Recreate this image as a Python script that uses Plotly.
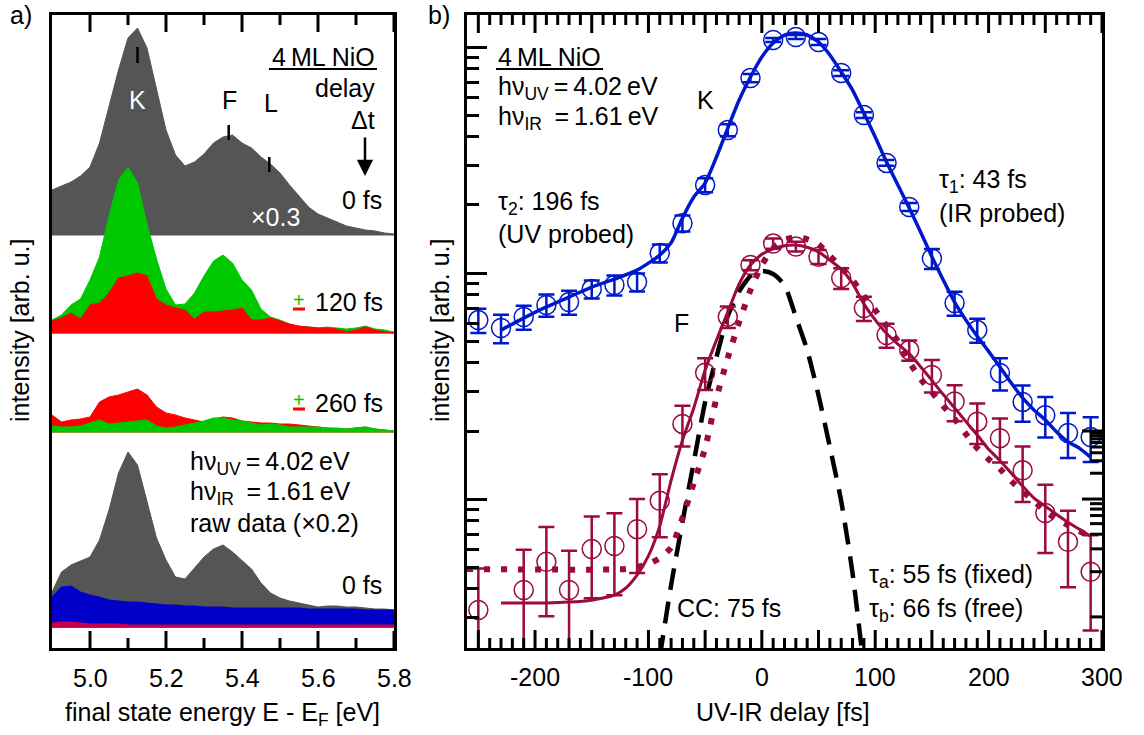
import math
import plotly.graph_objects as go

W, H = 1144, 735
FONT = "Liberation Sans"

# ---------------- panel a) spectra ----------------
energy = [4.900, 4.925, 4.950, 4.975, 5.000, 5.025, 5.050, 5.075, 5.100, 5.125,
          5.150, 5.175, 5.200, 5.225, 5.250, 5.275, 5.300, 5.325, 5.350, 5.375,
          5.400, 5.425, 5.450, 5.475, 5.500, 5.525, 5.550, 5.575, 5.600, 5.625,
          5.650, 5.675, 5.700, 5.725, 5.750, 5.775, 5.800]

spec_0fs_x03 = [45, 49, 53, 59, 68, 92, 128, 165, 197, 207,
                187, 145, 105, 80, 69, 73, 81, 92, 98, 100,
                92, 87, 78, 71, 62, 50, 39, 28, 21, 17,
                13, 9, 7, 5, 4, 2, 1]
spec_p120 = [13, 18, 28, 34, 53, 76, 117, 153, 166, 150,
             109, 74, 44, 28, 29, 40, 57, 72, 78, 70,
             53, 43, 24, 16, 13, 9, 6, 6, 5, 6,
             5, 4, 5, 7, 4, 3, 1]
spec_m120 = [12, 15, 20, 14, 28, 30, 40, 55, 57, 60,
             57, 34, 28, 25, 23, 14, 21, 21, 22, 23,
             25, 13, 13, 15, 12, 9, 7, 6, 5, 5,
             4, 1, 3, 6, 3, 1, 0]
spec_m260 = [17, 10, 12, 13, 15, 30, 35, 37, 40, 43,
             37, 25, 19, 17, 14, 12, 10, 13, 15, 14,
             11, 10, 9, 9, 8, 8, 7, 6, 5, 4,
             3, 3, 4, 5, 3, 2, 1]
spec_p260 = [6, 5, 5, 6, 9, 12, 8, 9, 10, 11,
             12, 6, 4, 5, 7, 9, 11, 14, 14, 12,
             11, 9, 7, 8, 7, 5, 5, 5, 5, 4,
             4, 3, 4, 5, 3, 2, 1]
raw_grey = [35, 55, 62, 66, 70, 87, 117, 154, 175, 162,
            126, 89, 67, 50, 48, 59, 70, 78, 82, 75,
            66, 58, 44, 34, 29, 26, 24, 22, 20, 21,
            21, 20, 20, 19, 18, 18, 17]
raw_blue = [30, 40, 41, 35, 32, 30, 27, 26, 25, 25,
            24, 23, 22, 22, 21, 21, 20, 20, 20, 19,
            19, 19, 19, 19, 19, 19, 19, 18, 18, 18,
            18, 18, 18, 17, 17, 17, 17]
raw_pink = [4, 5, 5, 4, 3, 3, 3, 3, 2, 2,
            2, 2, 2, 2, 2, 2, 2, 2, 2, 2,
            2, 2, 2, 2, 2, 2, 2, 2, 2, 2,
            2, 2, 2, 2, 2, 2, 2]

x_ticks_a = [5.0, 5.2, 5.4, 5.6, 5.8]
x_ticktext_a = ["5.0", "5.2", "5.4", "5.6", "5.8"]
x_minor_a = [5.1, 5.3, 5.5, 5.7]

# ---------------- panel b) delay scans ----------------
delay_K = [-250, -230, -210, -190, -170, -150, -130, -110, -90, -70, -50, -30, -10, 10,
           30, 50, 70, 90, 110, 130, 150, 170, 190, 210, 230, 250, 270, 290]
int_K = [6.19, 5.71, 6.39, 7.22, 7.44, 8.49, 8.85, 9.12, 12.25, 16.6, 24.5, 42.9, 72.9, 107.4,
         110.7, 105.2, 76.7, 50.0, 30.7, 19.6, 11.6, 7.37, 5.59, 3.61, 2.69, 2.35, 1.96, 1.88]
err_K = [0.76, 0.82, 0.78, 0.81, 0.91, 0.78, 0.9, 0.84, 1.12, 1.35, 1.75, 2.6, 3.0, 2.2,
         2.3, 3.2, 2.3, 1.5, 0.9, 0.8, 1.18, 0.9, 0.68, 0.59, 0.49, 0.48, 0.44, 0.42]

fit_K_delay = [-230, -210, -190, -170, -150, -130, -110, -90, -80, -70, -60, -50, -40, -30,
               -20, -10, 0, 10, 20, 30, 40, 50, 60, 70, 80, 90, 100, 110, 120, 130, 140,
               150, 160, 170, 180, 190, 200, 210, 220, 230, 240, 250, 260, 270, 280, 290]
fit_K = [5.59, 6.32, 7.08, 7.83, 8.67, 9.40, 10.3, 12.0, 13.6, 17.5, 21.7, 25.0, 32.6, 43.8,
         58.3, 73.7, 90.3, 104.2, 113.0, 115.3, 113.0, 105.2, 92.2, 77.5, 64.5, 51.0, 40.0,
         31.0, 24.5, 19.4, 15.2, 11.8, 9.31, 7.44, 6.19, 5.25, 4.5, 3.84, 3.26, 2.80, 2.48,
         2.24, 1.98, 1.79, 1.68, 1.53]

delay_F = [-250, -210, -190, -170, -150, -130, -110, -90, -70, -50, -30, -10, 10, 30,
           50, 70, 90, 110, 130, 150, 170, 190, 210, 230, 250, 270, 290]
int_F = [0.323, 0.396, 0.528, 0.396, 0.601, 0.620, 0.736, 0.983, 2.15, 3.62, 6.41, 10.85, 13.5, 13.1,
         11.8, 9.5, 7.0, 5.32, 4.56, 3.54, 2.70, 2.20, 1.86, 1.34, 0.867, 0.647, 0.477]
err_F = [0.17, 0.2, 0.225, 0.195, 0.237, 0.245, 0.265, 0.305, 0.44, 0.58, 0.70, 0.55, 0.7, 0.66,
         0.84, 1.0, 0.86, 0.65, 0.47, 0.58, 0.49, 0.45, 0.41, 0.37, 0.29, 0.24, 0.215]

fit_F_delay = [-230, -210, -190, -170, -150, -140, -130, -120, -110, -100, -90, -80, -70, -60,
               -50, -40, -30, -20, -10, 0, 10, 20, 30, 40, 50, 60, 70, 80, 90, 100, 110,
               120, 130, 140, 150, 160, 170, 180, 190, 200, 210, 220, 230, 240, 250, 260,
               270, 280, 290]
fit_F_free = [0.347, 0.347, 0.347, 0.350, 0.357, 0.365, 0.376, 0.404, 0.461, 0.560, 0.760, 1.21,
              1.82, 2.53, 3.72, 5.05, 6.72, 8.94, 10.85, 12.1, 12.8, 13.2, 13.3, 13.0, 12.4,
              11.4, 10.4, 9.0, 7.3, 6.2, 5.4, 4.85, 4.4, 3.85, 3.35, 2.90, 2.53, 2.20, 1.92,
              1.66, 1.48, 1.30, 1.14, 1.01, 0.93, 0.855, 0.79, 0.735, 0.685]

fit_F_fixed_delay = [-260, -120, -110, -100, -90, -80, -70, -60, -50, -40, -30, -20, -10, 0,
                     10, 20, 30, 40, 50, 60, 70, 80, 90, 100, 110, 120, 130, 140, 150, 160,
                     170, 180, 190, 200, 210, 220, 230, 240, 250, 260, 270, 280, 290]
fit_F_fixed = [0.490, 0.490, 0.500, 0.516, 0.548, 0.61, 0.824, 1.177, 1.68, 2.80, 4.21, 6.07,
               8.41, 10.85, 12.9, 14.0, 14.4, 14.1, 13.4, 11.9, 10.6, 9.31, 7.91, 6.86, 5.83,
               5.00, 4.04, 3.40, 2.97, 2.58, 2.26, 1.94, 1.68, 1.50, 1.36, 1.20, 1.08, 0.980,
               0.885, 0.816, 0.767, 0.722, 0.679]

cc_delay = [-90, -80, -70, -60, -50, -40, -30, -20, -10, 0, 10, 20, 30, 40, 50, 60, 70, 80, 90]
cc = [0.2, 0.416, 0.79, 1.46, 2.69, 4.25, 6.45, 8.3, 9.7, 10.2, 9.9, 8.85, 6.4, 4.56, 2.88,
      1.70, 0.98, 0.47, 0.179]

x_ticks_b = [-250, -200, -150, -100, -50, 0, 50, 100, 150, 200, 250, 300]
x_labels_b = [-200, -100, 0, 100, 200, 300]
x_minor_b = [-240, -230, -220, -210, -190, -180, -170, -160, -140, -130, -120, -110,
             -90, -80, -70, -60, -40, -30, -20, -10, 10, 20, 30, 40, 60, 70, 80, 90,
             110, 120, 130, 140, 160, 170, 180, 190, 210, 220, 230, 240, 260, 270, 280, 290]
y_major_b = [1, 10, 100]
y_minor_b = [0.3, 0.4, 0.5, 0.6, 0.7, 0.8, 0.9, 2, 3, 4, 5, 6, 7, 8, 9,
             20, 30, 40, 50, 60, 70, 80, 90]

# ---------------- colours ----------------
GREY = "#555555"
GREEN = "#00c800"
RED = "#ff0000"
BLUE_RAW = "#0000c8"
PINK_RAW = "#c8004e"
BLUE = "#0018cc"
CRIMSON = "#9b0a40"

# baselines of stacked spectra (left panel units = pixels above bottom)
B_TOP, B_120, B_260, B_RAW = 413, 315, 216, 21
PLOT_H = 633            # plot-area height in px (both panels)
PLOT_W_B = 635          # panel b plot-area width in px


def band(vals, base, color):
    xs = energy + energy[::-1]
    ys = [base + v for v in vals] + [base] * len(energy)
    return go.Scatter(x=xs, y=ys, mode="lines", fill="toself", fillcolor=color,
                      line=dict(color=color, width=1), hoverinfo="skip",
                      showlegend=False, xaxis="x", yaxis="y")


fig = go.Figure()
fig.add_trace(band(spec_0fs_x03, B_TOP, GREY))
fig.add_trace(band(spec_p120, B_120, GREEN))
fig.add_trace(band(spec_m120, B_120, RED))
fig.add_trace(band(spec_m260, B_260, RED))
fig.add_trace(band(spec_p260, B_260, GREEN))
fig.add_trace(band(raw_grey, B_RAW, GREY))
fig.add_trace(band(raw_blue, B_RAW, BLUE_RAW))
fig.add_trace(band(raw_pink, B_RAW, PINK_RAW))

# right panel
fig.add_trace(go.Scatter(x=cc_delay, y=cc, mode="lines", xaxis="x2", yaxis="y2",
                         line=dict(color="black", width=4.5, dash="22px,12px", shape="spline",
                                   smoothing=0.6), showlegend=False))
fig.add_trace(go.Scatter(x=fit_F_fixed_delay, y=fit_F_fixed, mode="lines", xaxis="x2", yaxis="y2",
                         line=dict(color=CRIMSON, width=6, dash="6px,11px", shape="spline", smoothing=0.6),
                         showlegend=False))
fig.add_trace(go.Scatter(x=fit_F_delay, y=fit_F_free, mode="lines", xaxis="x2", yaxis="y2",
                         line=dict(color=CRIMSON, width=3, shape="spline", smoothing=0.6),
                         showlegend=False))
fig.add_trace(go.Scatter(x=delay_F, y=int_F, mode="markers", xaxis="x2", yaxis="y2",
                         marker=dict(symbol="circle-open", size=19, color=CRIMSON, line=dict(width=1.5)),
                         error_y=dict(type="data", array=err_F, color=CRIMSON, thickness=2.5, width=8),
                         showlegend=False))
fig.add_trace(go.Scatter(x=fit_K_delay, y=fit_K, mode="lines", xaxis="x2", yaxis="y2",
                         line=dict(color=BLUE, width=3.5, shape="spline", smoothing=0.6),
                         showlegend=False))
fig.add_trace(go.Scatter(x=delay_K, y=int_K, mode="markers", xaxis="x2", yaxis="y2",
                         marker=dict(symbol="circle-open", size=19, color=BLUE, line=dict(width=1.5)),
                         error_y=dict(type="data", array=err_K, color=BLUE, thickness=2.5, width=8),
                         showlegend=False))


def PX(px):
    return px / W


def PY(py):
    return 1 - py / H


ann = []


def text(t, px, py, xanchor="left", color="black", size=25, angle=0):
    ann.append(dict(text=t, x=PX(px), y=PY(py), xref="paper", yref="paper",
                    xanchor=xanchor, yanchor="middle", showarrow=False, textangle=angle,
                    font=dict(family=FONT, size=size, color=color)))


def ticklabel(t, xval, xref, py):
    ann.append(dict(text=t, x=xval, y=PY(py), xref=xref, yref="paper",
                    xanchor="center", yanchor="middle", showarrow=False,
                    font=dict(family=FONT, size=25, color="black")))


# panel labels
text("a)", 8, 15)
text("b)", 426, 15)

# left panel texts
text("4\u2009ML NiO", 377, 57, "right")
text("delay", 377, 88, "right")
text("\u0394t", 377, 120, "right")
text("0 fs", 384, 200, "right")
text("\u00d70.3", 275, 217, "center", "white")
text("K", 137, 100, "center", "white")
text("F", 229, 100, "center")
text("L", 271, 103, "center")
text("120 fs", 385, 302, "right")
text("260 fs", 385, 403, "right")
text("+", 299, 300, "center", GREEN, 20)
text("+", 299, 400, "center", GREEN, 20)
text("h\u03bd<sub>UV</sub>\u2009=\u20094.02\u2009eV", 188, 463)
text("h\u03bd<sub>IR</sub>\u2002=\u20091.61\u2009eV", 188, 493)
text("raw data (\u00d70.2)", 188, 523)
text("0 fs", 384, 585, "right")
text("intensity [arb. u.]", 20, 331, "center", angle=-90)
text("final state energy E - E<sub>F</sub> [eV]", 222, 714, "center")

# right panel texts
text("4\u2009ML NiO", 496, 57)
text("h\u03bd<sub>UV</sub>\u2009=\u20094.02\u2009eV", 496, 88)
text("h\u03bd<sub>IR</sub>\u2002=\u20091.61\u2009eV", 496, 118)
text("K", 705, 100, "center")
text("\u03c4<sub>2</sub>: 196 fs", 496, 203)
text("(UV probed)", 496, 234)
text("\u03c4<sub>1</sub>: 43 fs", 937, 181)
text("(IR probed)", 937, 213)
text("F", 681, 323, "center")
text("CC: 75 fs", 675, 608)
text("\u03c4<sub>a</sub>: 55 fs (fixed)", 867, 576)
text("\u03c4<sub>b</sub>: 66 fs (free)", 867, 610)
text("intensity [arb. u.]", 440, 331, "center", angle=-90)
text("UV-IR delay [fs]", 783, 712, "center")

# tick labels (placed on the axes' own data coordinates)
for v, t in zip(x_ticks_a, x_ticktext_a):
    ticklabel(t, v, "x", 678)
for v in x_labels_b:
    ticklabel(str(v), v, "x2", 677)

# arrow (delay direction)
ann.append(dict(x=PX(365), y=PY(176), ax=0, ay=-40, xref="paper", yref="paper",
                showarrow=True, arrowhead=2, arrowsize=1.3, arrowwidth=2.5,
                arrowcolor="black", text=""))

shapes = []


def seg(x0, y0, x1, y1, color="black", width=2.5):
    shapes.append(dict(type="line", xref="paper", yref="paper", x0=PX(x0), y0=PY(y0),
                       x1=PX(x1), y1=PY(y1), line=dict(color=color, width=width)))


seg(269, 69, 377, 69, width=2)          # underline left
seg(496, 69, 603, 69, width=2)          # underline right
seg(137.5, 47, 137.5, 63)                # K mark
seg(228.7, 125, 228.7, 140)              # F mark
seg(269.3, 157, 269.3, 172)              # L mark
seg(293, 309, 305, 309, RED, 3)          # red minus of +/-
seg(293, 409, 305, 409, RED, 3)


# inward ticks on top & bottom (x) and on the right side (y of panel b)
def xtick(xval, xref, yref_dom, length):
    f = length / PLOT_H
    for y0, y1 in ((0, f), (1, 1 - f)):
        shapes.append(dict(type="line", xref=xref, yref=yref_dom, x0=xval, x1=xval,
                           y0=y0, y1=y1, line=dict(color="black", width=3)))


for v in x_ticks_a:
    xtick(v, "x", "y domain", 17)
for v in x_minor_a:
    xtick(v, "x", "y domain", 10)
for v in x_ticks_b:
    xtick(v, "x2", "y2 domain", 18)
for v in x_minor_b:
    xtick(v, "x2", "y2 domain", 10)


def ytick_right(yval, length):
    shapes.append(dict(type="line", xref="x2 domain", yref="y2",
                       x0=1, x1=1 - length / PLOT_W_B,
                       y0=math.log10(yval), y1=math.log10(yval),
                       line=dict(color="black", width=3)))


for v in y_major_b:
    ytick_right(v, 20)
for v in y_minor_b:
    ytick_right(v, 12)


def minor(vals, length):
    return dict(ticks="inside", tickmode="array", tickvals=vals, ticklen=length,
                tickwidth=3, tickcolor="black", showgrid=False)


ydom = [1 - 648 / H, 1 - 15 / H]

fig.update_layout(
    width=W, height=H, margin=dict(l=0, r=0, t=0, b=0),
    paper_bgcolor="white", plot_bgcolor="white",
    font=dict(family=FONT, size=25, color="black"),
    showlegend=False,
    xaxis=dict(domain=[52 / W, 394 / W], range=[4.9, 5.8], ticks="", showticklabels=False,
               showline=True, linewidth=3, linecolor="black", mirror=True,
               showgrid=False, zeroline=False, anchor="y"),
    yaxis=dict(domain=ydom, range=[0, 633], showline=True, linewidth=3, linecolor="black",
               mirror=True, showgrid=False, zeroline=False, ticks="", showticklabels=False,
               anchor="x"),
    xaxis2=dict(domain=[467 / W, 1102 / W], range=[-260, 300], ticks="", showticklabels=False,
                showline=True, linewidth=3, linecolor="black", mirror=True,
                showgrid=False, zeroline=False, anchor="y2"),
    yaxis2=dict(domain=ydom, type="log", range=[-0.659, 2.1416], tickmode="array",
                tickvals=y_major_b, ticks="inside", ticklen=20, tickwidth=3, tickcolor="black",
                showline=True, linewidth=3, linecolor="black", mirror=True,
                showgrid=False, zeroline=False, showticklabels=False,
                minor=minor(y_minor_b, 12), anchor="x2"),
    annotations=ann, shapes=shapes,
)

fig.write_html("out.html")
